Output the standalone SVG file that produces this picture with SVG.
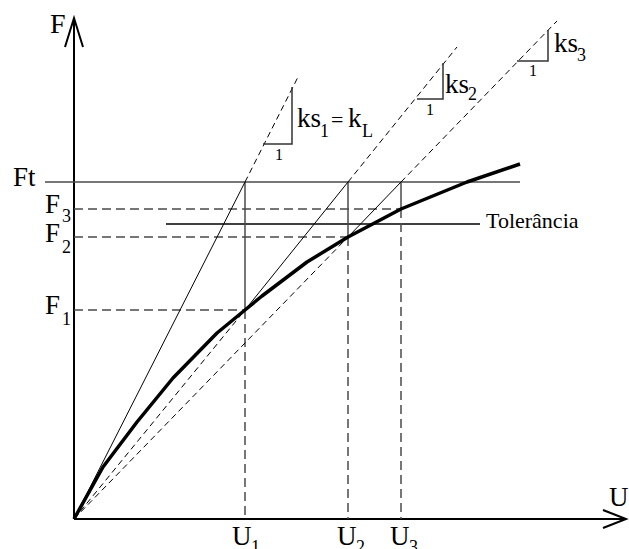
<svg xmlns="http://www.w3.org/2000/svg" width="629" height="549" viewBox="0 0 629 549">
<style>
  text { font-family: 'Liberation Serif', 'DejaVu Serif', 'Noto Serif', serif; fill: #000; }
  .lab { font-size: 27px; }
  .sub { font-size: 18px; }
  .one { font-size: 16px; }
  .axis { stroke: #000; stroke-width: 2; fill: none; }
  .ref { stroke: #4a4a4a; stroke-width: 1.5; fill: none; }
  .hdash { stroke: #4a4a4a; stroke-width: 1.5; fill: none; stroke-dasharray: 9 5; }
  .thin { stroke: #000; stroke-width: 1; fill: none; }
  .tdash { stroke: #000; stroke-width: 1; fill: none; stroke-dasharray: 6 4; }
  .tri { stroke: #333; stroke-width: 1.5; fill: none; }
  .curve { stroke: #000; stroke-width: 3.5; fill: none; stroke-linejoin: round; }
</style>
<rect width="629" height="549" fill="#fff"/>

<g id="axes">
  <line class="axis" x1="74" y1="519" x2="74" y2="18"/>
  <polyline class="axis" points="65,47 74,18 83,47"/>
  <line class="axis" x1="74" y1="519" x2="626" y2="519"/>
  <polyline class="axis" points="603,510 626,519 603,528"/>
  <text class="lab" x="50" y="33" style="font-size:28px">F</text>
  <text class="lab" x="609" y="506">U</text>
</g>

<g id="reference-lines">
  <line class="ref" x1="45" y1="182" x2="520" y2="182"/>
  <line class="hdash" x1="74" y1="209" x2="401" y2="209"/>
  <line class="hdash" x1="74" y1="237" x2="348" y2="237"/>
  <line class="hdash" x1="74" y1="310" x2="245" y2="310"/>
  <line x1="166" y1="224" x2="480" y2="224" stroke="#000" stroke-width="1.5"/>
  <line class="ref" x1="245" y1="182" x2="245" y2="310"/>
  <line class="hdash" x1="245" y1="310" x2="245" y2="519"/>
  <line class="ref" x1="348" y1="182" x2="348" y2="237"/>
  <line class="hdash" x1="348" y1="237" x2="348" y2="519"/>
  <line class="ref" x1="401" y1="182" x2="401" y2="209"/>
  <line class="hdash" x1="401" y1="209" x2="401" y2="519"/>
</g>

<g id="connectors">
  <line class="thin" x1="74" y1="519" x2="245" y2="182"/>
  <line class="tdash" x1="245" y1="182" x2="299" y2="75"/>
  <line class="tdash" x1="74" y1="519" x2="245" y2="310"/>
  <line class="thin" x1="245" y1="310" x2="348" y2="182"/>
  <line class="tdash" x1="348" y1="182" x2="457" y2="47"/>
  <line class="tdash" x1="74" y1="519" x2="348" y2="237"/>
  <line class="thin" x1="348" y1="237" x2="401" y2="182"/>
  <line class="tdash" x1="401" y1="182" x2="557" y2="21"/>
</g>

<g id="curve">
  <polyline class="curve" points="74,519 103,467 137,422 173,378 217,333 245,310 262,296 307,262 348,237 401,209 467,182 520,164"/>
</g>

<g id="triangle-ks1">
  <polyline class="tri" points="263,144 292,144 292,87"/>
  <text class="one" x="279" y="160" text-anchor="middle">1</text>
  <text class="lab" x="297" y="127">ks</text>
  <text class="sub" x="320" y="137">1</text>
  <text class="lab" x="331" y="127" style="font-size:22px">=</text>
  <text class="lab" x="348" y="127">k</text>
  <text class="sub" x="362" y="137">L</text>
</g>

<g id="triangle-ks2">
  <polyline class="tri" points="417,99 443,99 443,63"/>
  <text class="one" x="430" y="115" text-anchor="middle">1</text>
  <text class="lab" x="445" y="93">ks</text>
  <text class="sub" x="468" y="100">2</text>
</g>

<g id="triangle-ks3">
  <polyline class="tri" points="517,61 548,61 548,30"/>
  <text class="one" x="533" y="76" text-anchor="middle">1</text>
  <text class="lab" x="554" y="52">ks</text>
  <text class="sub" x="577" y="61">3</text>
</g>

<g id="labels">
  <text class="lab" x="13" y="186">Ft</text>
  <text class="lab" x="45" y="213">F</text><text class="sub" x="62" y="222">3</text>
  <text class="lab" x="45" y="242">F</text><text class="sub" x="62" y="253">2</text>
  <text class="lab" x="45" y="314">F</text><text class="sub" x="62" y="325">1</text>
  <text x="486" y="228" style="font-size:22px">Tolerância</text>
  <text class="lab" x="232" y="545">U</text><text class="sub" x="251" y="553">1</text>
  <text class="lab" x="337" y="545">U</text><text class="sub" x="356" y="553">2</text>
  <text class="lab" x="390" y="545">U</text><text class="sub" x="409" y="553">3</text>
</g>
</svg>
